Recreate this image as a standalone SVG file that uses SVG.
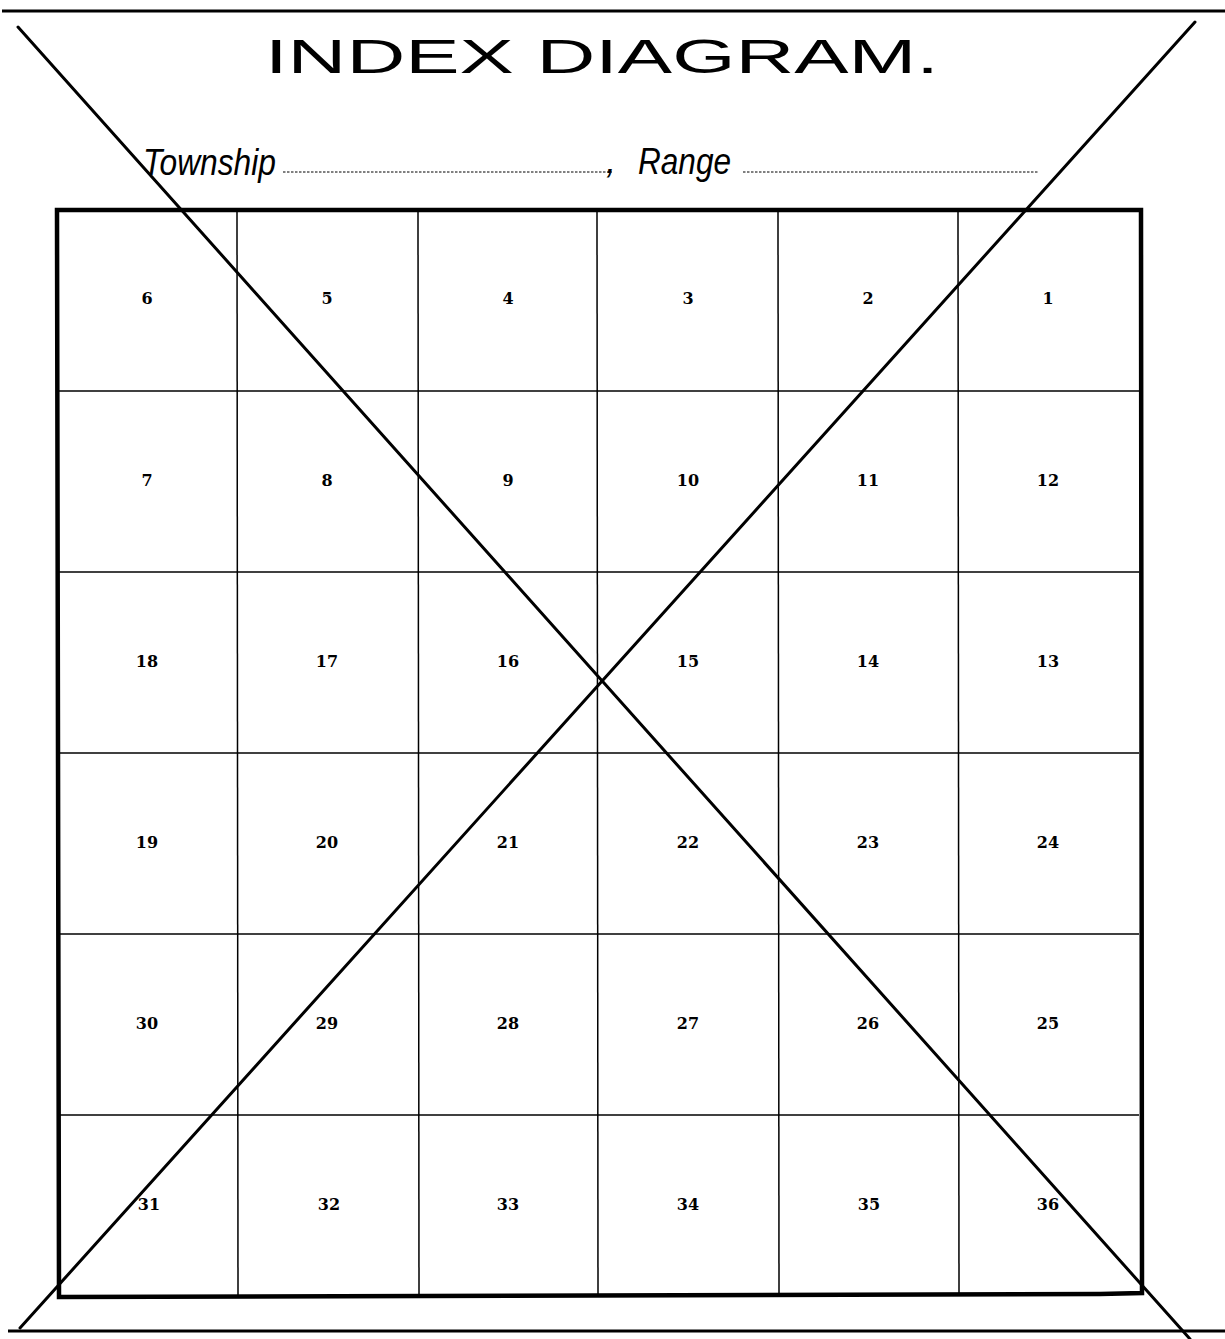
<svg xmlns="http://www.w3.org/2000/svg" width="1225" height="1339" viewBox="0 0 1225 1339">
<style>
.rule{stroke:#000;stroke-width:3;fill:none}
.grid{stroke:#000;stroke-width:1.5;fill:none}
.box{stroke:#000;stroke-width:4.5;fill:none}
.diag{stroke:#000;stroke-width:3;fill:none;stroke-linecap:round}
.dots{stroke:#000;stroke-width:1;stroke-dasharray:2.5 1.5;fill:none}
.num{font-family:"DejaVu Serif","Liberation Serif",serif;font-weight:bold;font-size:16px;text-anchor:middle;fill:#000}
.title{font-family:"Liberation Sans","DejaVu Sans",sans-serif;font-size:49px;fill:#000}
.ital{font-family:"Liberation Sans","DejaVu Sans",sans-serif;font-style:italic;font-size:36px;fill:#000}
</style>
<rect width="1225" height="1339" fill="#fff"/>
<g id="header">
<line class="rule" x1="2" y1="11" x2="1225" y2="11"/>
<text class="title" x="265" y="73" textLength="674" lengthAdjust="spacingAndGlyphs">INDEX DIAGRAM.</text>
<text class="ital" x="143" y="175" font-size="44" textLength="133" lengthAdjust="spacingAndGlyphs">Township</text>
<line class="dots" x1="283" y1="172" x2="612" y2="172"/>
<text class="ital" x="606" y="173">,</text>
<text class="ital" x="638" y="174" textLength="93" lengthAdjust="spacingAndGlyphs">Range</text>
<line class="dots" x1="743" y1="172" x2="1038" y2="172"/>
</g>
<g id="grid">
<line class="grid" x1="237" y1="210" x2="238" y2="1296"/>
<line class="grid" x1="418" y1="210" x2="419" y2="1296"/>
<line class="grid" x1="597" y1="210" x2="598" y2="1296"/>
<line class="grid" x1="778" y1="210" x2="779" y2="1295"/>
<line class="grid" x1="958" y1="210" x2="959" y2="1295"/>
<line class="grid" x1="57" y1="391" x2="1139" y2="391"/>
<line class="grid" x1="57" y1="572" x2="1139" y2="572"/>
<line class="grid" x1="57" y1="753" x2="1139" y2="753"/>
<line class="grid" x1="57" y1="934" x2="1139" y2="934"/>
<line class="grid" x1="57" y1="1115" x2="1139" y2="1115"/>
<path class="box" d="M57,210 L1141,210 L1142,1293 L1100,1294 L59,1297 Z"/>
</g>
<g id="sections">
<g id="row1"><text class="num" x="147" y="304">6</text><text class="num" x="327" y="304">5</text><text class="num" x="508" y="304">4</text><text class="num" x="688" y="304">3</text><text class="num" x="868" y="304">2</text><text class="num" x="1048" y="304">1</text></g>
<g id="row2"><text class="num" x="147" y="486">7</text><text class="num" x="327" y="486">8</text><text class="num" x="508" y="486">9</text><text class="num" x="688" y="486">10</text><text class="num" x="868" y="486">11</text><text class="num" x="1048" y="486">12</text></g>
<g id="row3"><text class="num" x="147" y="667">18</text><text class="num" x="327" y="667">17</text><text class="num" x="508" y="667">16</text><text class="num" x="688" y="667">15</text><text class="num" x="868" y="667">14</text><text class="num" x="1048" y="667">13</text></g>
<g id="row4"><text class="num" x="147" y="848">19</text><text class="num" x="327" y="848">20</text><text class="num" x="508" y="848">21</text><text class="num" x="688" y="848">22</text><text class="num" x="868" y="848">23</text><text class="num" x="1048" y="848">24</text></g>
<g id="row5"><text class="num" x="147" y="1029">30</text><text class="num" x="327" y="1029">29</text><text class="num" x="508" y="1029">28</text><text class="num" x="688" y="1029">27</text><text class="num" x="868" y="1029">26</text><text class="num" x="1048" y="1029">25</text></g>
<g id="row6"><text class="num" x="149" y="1210">31</text><text class="num" x="329" y="1210">32</text><text class="num" x="508" y="1210">33</text><text class="num" x="688" y="1210">34</text><text class="num" x="869" y="1210">35</text><text class="num" x="1048" y="1210">36</text></g>
</g>
<g id="cross">
<line class="diag" x1="18" y1="27" x2="1190" y2="1339"/>
<line class="diag" x1="1195" y1="22" x2="20" y2="1328"/>
</g>
<g id="footer">
<line class="rule" x1="8" y1="1331" x2="1225" y2="1331"/>
</g>
</svg>
